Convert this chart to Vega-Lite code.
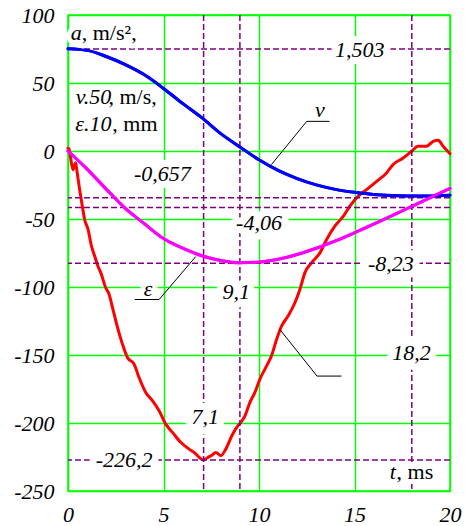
{
  "$schema": "https://vega.github.io/schema/vega-lite/v6.json",
  "width": 382,
  "height": 476,
  "autosize": {"type": "none"},
  "padding": {"left": 68, "top": 15, "right": 16, "bottom": 35},
  "background": "white",
  "config": {
    "view": {"stroke": "#00ff00", "strokeWidth": 1.5},
    "font": "'Liberation Serif', 'Times New Roman', serif",
    "text": {"font": "'Liberation Serif', 'Times New Roman', serif"},
    "axis": {"grid": true, "gridColor": "#00ff00", "gridWidth": 1.5, "gridOpacity": 1, "domain": false, "ticks": false, "labelFont": "'Liberation Serif', 'Times New Roman', serif", "labelFontStyle": "italic", "labelFontSize": 22, "labelColor": "black", "labelFlush": false, "labelOverlap": false, "labelExpr": "(datum.value < 0 ? '-' : '') + abs(datum.value)"},
    "axisX": {"labelPadding": 13, "tickCount": 4},
    "axisY": {"labelPadding": 14, "tickCount": 7}
  },
  "datasets": {
    "curves": [
      {"s": "a", "t": 0.0, "val": 2},
      {"s": "a", "t": 0.05, "val": 1.6},
      {"s": "a", "t": 0.18, "val": -8.7},
      {"s": "a", "t": 0.26, "val": -13.7},
      {"s": "a", "t": 0.4, "val": -8.7},
      {"s": "a", "t": 0.47, "val": -14.9},
      {"s": "a", "t": 0.61, "val": -28.4},
      {"s": "a", "t": 0.75, "val": -40.6},
      {"s": "a", "t": 0.87, "val": -50.4},
      {"s": "a", "t": 1.05, "val": -57.7},
      {"s": "a", "t": 1.23, "val": -70.0},
      {"s": "a", "t": 1.4, "val": -77.4},
      {"s": "a", "t": 1.57, "val": -84.7},
      {"s": "a", "t": 1.73, "val": -90.0},
      {"s": "a", "t": 1.97, "val": -100.4},
      {"s": "a", "t": 2.15, "val": -105.3},
      {"s": "a", "t": 2.33, "val": -115.1},
      {"s": "a", "t": 2.59, "val": -129.7},
      {"s": "a", "t": 2.85, "val": -142.0},
      {"s": "a", "t": 3.11, "val": -151.8},
      {"s": "a", "t": 3.46, "val": -156.7},
      {"s": "a", "t": 3.72, "val": -166.5},
      {"s": "a", "t": 4.07, "val": -177.5},
      {"s": "a", "t": 4.42, "val": -183.6},
      {"s": "a", "t": 4.77, "val": -191.0},
      {"s": "a", "t": 5.12, "val": -200.8},
      {"s": "a", "t": 5.47, "val": -206.9},
      {"s": "a", "t": 5.9, "val": -214.2},
      {"s": "a", "t": 6.34, "val": -219.2},
      {"s": "a", "t": 6.6, "val": -221.6},
      {"s": "a", "t": 7.1, "val": -227.2},
      {"s": "a", "t": 7.3, "val": -225.5},
      {"s": "a", "t": 7.55, "val": -223.5},
      {"s": "a", "t": 7.74, "val": -221.6},
      {"s": "a", "t": 8.0, "val": -224.0},
      {"s": "a", "t": 8.26, "val": -219.2},
      {"s": "a", "t": 8.61, "val": -208.5},
      {"s": "a", "t": 8.87, "val": -202.5},
      {"s": "a", "t": 9.05, "val": -199.5},
      {"s": "a", "t": 9.26, "val": -194.9},
      {"s": "a", "t": 9.52, "val": -185.0},
      {"s": "a", "t": 9.78, "val": -177.7},
      {"s": "a", "t": 10.04, "val": -168.0},
      {"s": "a", "t": 10.39, "val": -158.2},
      {"s": "a", "t": 10.65, "val": -150.8},
      {"s": "a", "t": 10.92, "val": -138.6},
      {"s": "a", "t": 11.18, "val": -128.8},
      {"s": "a", "t": 11.52, "val": -121.4},
      {"s": "a", "t": 11.88, "val": -111.6},
      {"s": "a", "t": 12.14, "val": -101.8},
      {"s": "a", "t": 12.4, "val": -89.6},
      {"s": "a", "t": 12.75, "val": -82.2},
      {"s": "a", "t": 13.19, "val": -74.9},
      {"s": "a", "t": 13.54, "val": -65.1},
      {"s": "a", "t": 13.97, "val": -55.3},
      {"s": "a", "t": 14.41, "val": -48.0},
      {"s": "a", "t": 14.76, "val": -40.6},
      {"s": "a", "t": 15.19, "val": -33.3},
      {"s": "a", "t": 15.63, "val": -28.4},
      {"s": "a", "t": 16.16, "val": -22.3},
      {"s": "a", "t": 16.68, "val": -16.1},
      {"s": "a", "t": 17.02, "val": -10.0},
      {"s": "a", "t": 17.55, "val": -5.1},
      {"s": "a", "t": 17.99, "val": -0.2},
      {"s": "a", "t": 18.33, "val": 3.5},
      {"s": "a", "t": 18.77, "val": 3.5},
      {"s": "a", "t": 19.12, "val": 7.1},
      {"s": "a", "t": 19.38, "val": 7.9},
      {"s": "a", "t": 19.64, "val": 3.5},
      {"s": "a", "t": 20.0, "val": -1.9},
      {"s": "v", "t": 0, "val": 75.1},
      {"s": "v", "t": 1, "val": 74.0},
      {"s": "v", "t": 2, "val": 69.5},
      {"s": "v", "t": 3, "val": 63.5},
      {"s": "v", "t": 4, "val": 56.0},
      {"s": "v", "t": 5, "val": 46.0},
      {"s": "v", "t": 6, "val": 35.0},
      {"s": "v", "t": 7, "val": 24.5},
      {"s": "v", "t": 8, "val": 12.8},
      {"s": "v", "t": 9, "val": 3.0},
      {"s": "v", "t": 10, "val": -6.5},
      {"s": "v", "t": 11, "val": -14.3},
      {"s": "v", "t": 12, "val": -20.3},
      {"s": "v", "t": 13, "val": -24.9},
      {"s": "v", "t": 14, "val": -28.2},
      {"s": "v", "t": 15, "val": -30.4},
      {"s": "v", "t": 16, "val": -32.0},
      {"s": "v", "t": 17, "val": -32.7},
      {"s": "v", "t": 18, "val": -33.0},
      {"s": "v", "t": 19, "val": -33.0},
      {"s": "v", "t": 20, "val": -32.5},
      {"s": "eps", "t": 0, "val": 0},
      {"s": "eps", "t": 1, "val": -13.3},
      {"s": "eps", "t": 2, "val": -28.0},
      {"s": "eps", "t": 3, "val": -42.2},
      {"s": "eps", "t": 4, "val": -53.5},
      {"s": "eps", "t": 5, "val": -64.4},
      {"s": "eps", "t": 6, "val": -71.5},
      {"s": "eps", "t": 7, "val": -77.0},
      {"s": "eps", "t": 8, "val": -80.5},
      {"s": "eps", "t": 9, "val": -82.2},
      {"s": "eps", "t": 10, "val": -81.7},
      {"s": "eps", "t": 11, "val": -79.6},
      {"s": "eps", "t": 12, "val": -76.1},
      {"s": "eps", "t": 13, "val": -71.5},
      {"s": "eps", "t": 14, "val": -66.1},
      {"s": "eps", "t": 15, "val": -60.1},
      {"s": "eps", "t": 16, "val": -53.8},
      {"s": "eps", "t": 17, "val": -47.3},
      {"s": "eps", "t": 18, "val": -40.7},
      {"s": "eps", "t": 19, "val": -34.1},
      {"s": "eps", "t": 20, "val": -27.5}
    ],
    "hlines": [
      {"val": 75.0},
      {"val": -34.3},
      {"val": -41.6},
      {"val": -82.5},
      {"val": -227.2}
    ],
    "vlines": [
      {"t": 7.1},
      {"t": 9.0},
      {"t": 18.0}
    ],
    "leaders": [
      {"g": "v", "t": 10.65, "val": -10.0},
      {"g": "v", "t": 12.5, "val": 21.8},
      {"g": "v", "t": 13.69, "val": 21.8},
      {"g": "e", "t": 3.49, "val": -109.2},
      {"g": "e", "t": 4.77, "val": -109.2},
      {"g": "e", "t": 6.69, "val": -77.6},
      {"g": "a", "t": 11.09, "val": -131.2},
      {"g": "a", "t": 13.04, "val": -165.5},
      {"g": "a", "t": 14.32, "val": -165.5}
    ],
    "nums": [
      {"txt": "1,503", "t": 15.28, "val": 74.5},
      {"txt": "-0,657", "t": 4.94, "val": -16.7},
      {"txt": "-4,06", "t": 10.0, "val": -52.6},
      {"txt": "-8,23", "t": 16.9, "val": -83.0},
      {"txt": "9,1", "t": 8.81, "val": -103.5},
      {"txt": "7,1", "t": 7.19, "val": -195.9},
      {"txt": "-226,2", "t": 2.94, "val": -227.5},
      {"txt": "18,2", "t": 17.99, "val": -148.3}
    ],
    "inotes": [
      {"txt": "a", "t": 0.14, "val": 81.9},
      {"txt": "v.50", "t": 0.4, "val": 34.8},
      {"txt": "ε.10", "t": 0.38, "val": 14.5},
      {"txt": "t", "t": 16.85, "val": -241.4},
      {"txt": "v", "t": 12.93, "val": 25.1},
      {"txt": "ε", "t": 3.97, "val": -106.7}
    ],
    "rnotes": [
      {"txt": ", m/s²,", "t": 0.72, "val": 81.9},
      {"txt": ", m/s,", "t": 2.12, "val": 34.8},
      {"txt": ", mm", "t": 2.32, "val": 14.5},
      {"txt": ", ms", "t": 17.2, "val": -241.4}
    ]
  },
  "layer": [
    {
      "data": {"name": "curves"},
      "mark": {"type": "line", "strokeWidth": 3, "interpolate": "monotone", "strokeCap": "round", "strokeJoin": "round"},
      "encoding": {
        "x": {"field": "t", "type": "quantitative", "scale": {"domain": [0, 20], "nice": false, "zero": false}, "axis": {"title": null}},
        "y": {"field": "val", "type": "quantitative", "scale": {"domain": [-250, 100], "nice": false, "zero": false}, "axis": {"title": null}},
        "color": {"field": "s", "type": "nominal", "scale": {"domain": ["a", "v", "eps"], "range": ["#ff0000", "#0000ff", "#ff00ff"]}, "legend": null}
      }
    },
    {
      "data": {"name": "hlines"},
      "mark": {"type": "rule", "color": "#800080", "strokeWidth": 1.5, "strokeDash": [6, 3]},
      "encoding": {
        "y": {"field": "val", "type": "quantitative", "scale": {"domain": [-250, 100], "nice": false, "zero": false}, "axis": {"title": null}}
      }
    },
    {
      "data": {"name": "vlines"},
      "mark": {"type": "rule", "color": "#800080", "strokeWidth": 1.5, "strokeDash": [6, 3]},
      "encoding": {
        "x": {"field": "t", "type": "quantitative", "scale": {"domain": [0, 20], "nice": false, "zero": false}, "axis": {"title": null}}
      }
    },
    {
      "data": {"name": "curves"},
      "transform": [{"filter": "datum.s !== 'a'"}],
      "mark": {"type": "line", "strokeWidth": 3, "interpolate": "monotone", "strokeCap": "round", "strokeJoin": "round"},
      "encoding": {
        "x": {"field": "t", "type": "quantitative", "scale": {"domain": [0, 20], "nice": false, "zero": false}, "axis": {"title": null}},
        "y": {"field": "val", "type": "quantitative", "scale": {"domain": [-250, 100], "nice": false, "zero": false}, "axis": {"title": null}},
        "color": {"field": "s", "type": "nominal", "scale": {"domain": ["a", "v", "eps"], "range": ["#ff0000", "#0000ff", "#ff00ff"]}, "legend": null}
      }
    },
    {
      "data": {"name": "nums"},
      "mark": {"type": "text", "font": "'Liberation Serif', 'Times New Roman', serif", "fontStyle": "italic", "fontSize": 22, "align": "center", "baseline": "middle", "stroke": "white", "strokeWidth": 14, "strokeJoin": "round", "fill": "white"},
      "encoding": {
        "x": {"field": "t", "type": "quantitative", "scale": {"domain": [0, 20], "nice": false, "zero": false}, "axis": {"title": null}},
        "y": {"field": "val", "type": "quantitative", "scale": {"domain": [-250, 100], "nice": false, "zero": false}, "axis": {"title": null}},
        "text": {"field": "txt"}
      }
    },
    {
      "data": {"name": "inotes"},
      "mark": {"type": "text", "font": "'Liberation Serif', 'Times New Roman', serif", "fontStyle": "italic", "fontSize": 22, "align": "left", "baseline": "alphabetic", "stroke": "white", "strokeWidth": 10, "strokeJoin": "round", "fill": "white"},
      "encoding": {
        "x": {"field": "t", "type": "quantitative", "scale": {"domain": [0, 20], "nice": false, "zero": false}, "axis": {"title": null}},
        "y": {"field": "val", "type": "quantitative", "scale": {"domain": [-250, 100], "nice": false, "zero": false}, "axis": {"title": null}},
        "text": {"field": "txt"}
      }
    },
    {
      "data": {"name": "rnotes"},
      "mark": {"type": "text", "font": "'Liberation Serif', 'Times New Roman', serif", "fontSize": 22, "align": "left", "baseline": "alphabetic", "stroke": "white", "strokeWidth": 10, "strokeJoin": "round", "fill": "white"},
      "encoding": {
        "x": {"field": "t", "type": "quantitative", "scale": {"domain": [0, 20], "nice": false, "zero": false}, "axis": {"title": null}},
        "y": {"field": "val", "type": "quantitative", "scale": {"domain": [-250, 100], "nice": false, "zero": false}, "axis": {"title": null}},
        "text": {"field": "txt"}
      }
    },
    {
      "data": {"name": "leaders"},
      "mark": {"type": "line", "color": "black", "strokeWidth": 1},
      "encoding": {
        "x": {"field": "t", "type": "quantitative", "scale": {"domain": [0, 20], "nice": false, "zero": false}, "axis": {"title": null}},
        "y": {"field": "val", "type": "quantitative", "scale": {"domain": [-250, 100], "nice": false, "zero": false}, "axis": {"title": null}},
        "detail": {"field": "g"}
      }
    },
    {
      "data": {"name": "nums"},
      "mark": {"type": "text", "font": "'Liberation Serif', 'Times New Roman', serif", "fontStyle": "italic", "fontSize": 22, "align": "center", "baseline": "middle", "color": "black"},
      "encoding": {
        "x": {"field": "t", "type": "quantitative", "scale": {"domain": [0, 20], "nice": false, "zero": false}, "axis": {"title": null}},
        "y": {"field": "val", "type": "quantitative", "scale": {"domain": [-250, 100], "nice": false, "zero": false}, "axis": {"title": null}},
        "text": {"field": "txt"}
      }
    },
    {
      "data": {"name": "inotes"},
      "mark": {"type": "text", "font": "'Liberation Serif', 'Times New Roman', serif", "fontStyle": "italic", "fontSize": 22, "align": "left", "baseline": "alphabetic", "color": "black"},
      "encoding": {
        "x": {"field": "t", "type": "quantitative", "scale": {"domain": [0, 20], "nice": false, "zero": false}, "axis": {"title": null}},
        "y": {"field": "val", "type": "quantitative", "scale": {"domain": [-250, 100], "nice": false, "zero": false}, "axis": {"title": null}},
        "text": {"field": "txt"}
      }
    },
    {
      "data": {"name": "rnotes"},
      "mark": {"type": "text", "font": "'Liberation Serif', 'Times New Roman', serif", "fontSize": 22, "align": "left", "baseline": "alphabetic", "color": "black"},
      "encoding": {
        "x": {"field": "t", "type": "quantitative", "scale": {"domain": [0, 20], "nice": false, "zero": false}, "axis": {"title": null}},
        "y": {"field": "val", "type": "quantitative", "scale": {"domain": [-250, 100], "nice": false, "zero": false}, "axis": {"title": null}},
        "text": {"field": "txt"}
      }
    }
  ]
}
